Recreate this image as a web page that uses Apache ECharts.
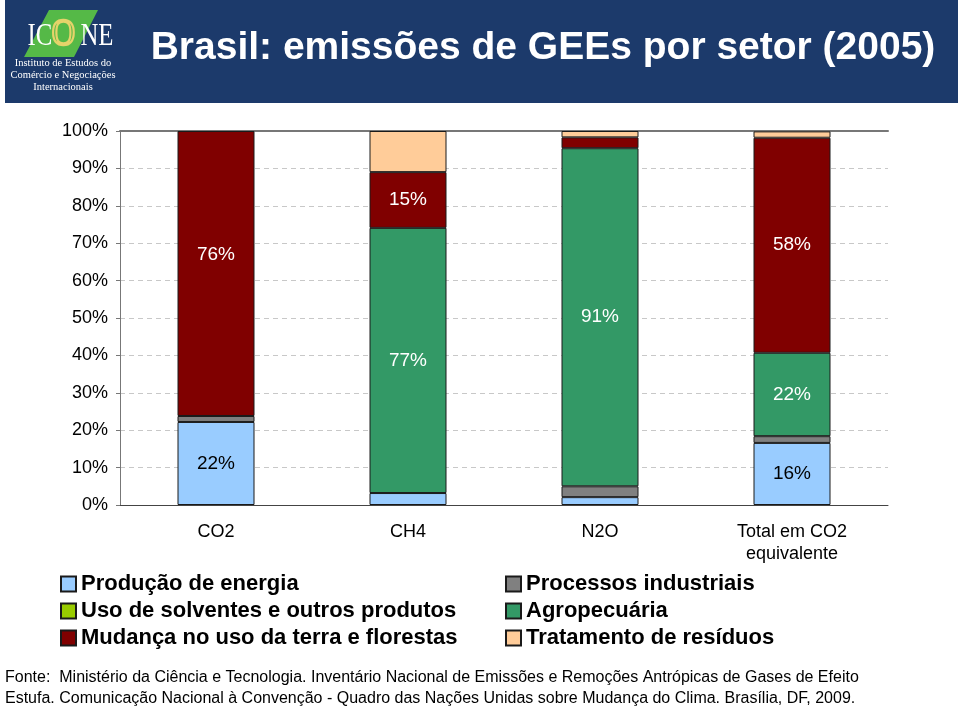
<!DOCTYPE html>
<html>
<head>
<meta charset="utf-8">
<script src="https://cdn.jsdelivr.net/npm/echarts@6/dist/echarts.min.js"></script>
<style>
html,body{margin:0;padding:0;background:#fff;}
#chart{width:960px;height:706px;}
</style>
</head>
<body>
<div id="chart"></div>
<script>
// ---- data ----
var categories = ['CO2', 'CH4', 'N2O', 'Total em CO2\nequivalente'];
var yTicks = [0, 10, 20, 30, 40, 50, 60, 70, 80, 90, 100];
var seriesNames = ['Produção de energia', 'Uso de solventes e outros produtos', 'Processos industriais', 'Agropecuária', 'Mudança no uso da terra e florestas', 'Tratamento de resíduos'];
var energia     = [22.2, 3.2, 2.1, 16.6];
var solventes   = [0, 0, 0, 0];
var industriais = [1.6, 0, 2.9, 1.8];
var agro        = [0, 70.9, 90.4, 22.3];
var mudanca     = [76.2, 14.9, 2.9, 57.5];
var residuos    = [0, 11.0, 1.7, 1.7];
var labelEnergia = ['22%', '', '', '16%'];
var labelAgro    = ['', '77%', '91%', '22%'];
var labelMudanca = ['76%', '15%', '', '58%'];
var colors = ['#99CCFF', '#99CC00', '#808080', '#339966', '#800000', '#FFCC99'];

var chart = echarts.init(document.getElementById('chart'), null, {renderer: 'canvas'});

function mk(name, vals, color, labels, labelColor, offsets) {
  return {
    name: name,
    type: 'bar',
    stack: 'total',
    barWidth: 77,
    itemStyle: {color: color, borderColor: '#1a1a1a', borderWidth: 1},
    data: vals.map(function (v, i) {
      var d = {value: v > 0 ? v : null};
      if (labels && labels[i]) {
        d.label = {show: true, formatter: labels[i], color: labelColor, fontSize: 19,
          fontFamily: 'Liberation Sans', position: 'inside',
          offset: offsets ? offsets[i] : [0, 0]};
      }
      return d;
    }),
    label: {show: false},
    emphasis: {disabled: true}
  };
}

var legendText = {fontSize: 22, fontWeight: 'bold', fontFamily: 'Liberation Sans', color: '#000', lineHeight: 22};

var option = {
  animation: false,
  textStyle: {fontFamily: 'Liberation Sans'},
  grid: {left: 120, right: 72, top: 131, bottom: 201, containLabel: false},
  legend: [
    {data: [seriesNames[0], seriesNames[1], seriesNames[4]], orient: 'vertical', left: 55, top: 568,
     itemWidth: 15, itemHeight: 15, itemGap: 5, icon: 'rect', textStyle: legendText, selectedMode: false},
    {data: [seriesNames[2], seriesNames[3], seriesNames[5]], orient: 'vertical', left: 500, top: 568,
     itemWidth: 15, itemHeight: 15, itemGap: 5, icon: 'rect', textStyle: legendText, selectedMode: false}
  ],
  xAxis: [
    {type: 'category', data: categories, position: 'bottom',
     axisLine: {show: true, lineStyle: {color: '#444', width: 1}},
     axisTick: {show: false},
     axisLabel: {fontSize: 18, color: '#000', margin: 16, lineHeight: 22, fontFamily: 'Liberation Sans'}},
    {type: 'category', data: categories, position: 'top',
     axisLine: {show: true, lineStyle: {color: '#777', width: 2}},
     axisTick: {show: false}, axisLabel: {show: false}}
  ],
  yAxis: {
    type: 'value', min: 0, max: 100, interval: 10,
    axisLine: {show: true, lineStyle: {color: '#777'}},
    axisTick: {show: true, length: 4, lineStyle: {color: '#777'}},
    axisLabel: {formatter: '{value}%', fontSize: 18, color: '#000', margin: 12, fontFamily: 'Liberation Sans'},
    splitLine: {show: true, lineStyle: {color: '#c8c8c8', type: [5, 4]}}
  },
  series: [
    mk(seriesNames[0], energia, colors[0], labelEnergia, '#000'),
    mk(seriesNames[1], solventes, colors[1]),
    mk(seriesNames[2], industriais, colors[2]),
    mk(seriesNames[3], agro, colors[3], labelAgro, '#fff'),
    mk(seriesNames[4], mudanca, colors[4], labelMudanca, '#fff', [[0, -19], [0, 0], [0, 0], [0, 0]]),
    mk(seriesNames[5], residuos, colors[5])
  ],
  graphic: [
    {type: 'rect', left: 5, top: 0, shape: {width: 953, height: 103}, style: {fill: '#1c3a6b'}},
    {type: 'polygon', shape: {points: [[49, 10], [98, 10], [74, 57], [24, 57]]}, style: {fill: '#55b947'}},
    {type: 'text', x: 23, y: 37, scaleX: 0.8, originX: 23, originY: 37, style: {text: 'IC', fill: '#fff', font: '31px "Liberation Serif"', verticalAlign: 'middle'}},
    {type: 'text', x: 45, y: 35, scaleX: 0.85, originX: 45, originY: 35, style: {text: 'O', fill: 'rgba(0,0,0,0)', stroke: '#e6d36a', lineWidth: 2.5, font: '38px "Liberation Serif"', verticalAlign: 'middle'}},
    {type: 'text', x: 67, y: 37, scaleX: 0.8, originX: 67, originY: 37, style: {text: 'NE', fill: '#fff', font: '31px "Liberation Serif"', verticalAlign: 'middle'}},
    {type: 'text', x: 63, y: 57, style: {text: 'Instituto de Estudos do\nComércio e Negociações\nInternacionais', fill: '#fff', font: '10.5px "Liberation Serif"', align: 'center', lineHeight: 12}},
    {type: 'text', x: 543, y: 48, style: {text: 'Brasil: emissões de GEEs por setor (2005)', fill: '#fff', font: 'bold 39px "Liberation Sans"', align: 'center', verticalAlign: 'middle'}},
    {type: 'text', left: 5, top: 667, style: {text: 'Fonte:  Ministério da Ciência e Tecnologia. Inventário Nacional de Emissões e Remoções Antrópicas de Gases de Efeito\nEstufa. Comunicação Nacional à Convenção - Quadro das Nações Unidas sobre Mudança do Clima. Brasília, DF, 2009.', fill: '#000', font: '16px "Liberation Sans"', lineHeight: 21}}
  ]
};
chart.setOption(option);
</script>
</body>
</html>
